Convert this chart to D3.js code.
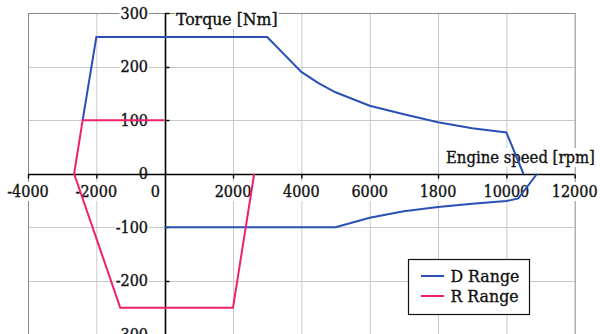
<!DOCTYPE html>
<html>
<head>
<meta charset="utf-8">
<script src="https://cdn.jsdelivr.net/npm/d3@7"></script>
<style>
  body { margin: 0; background: #fff; }
  text { font-family: "DejaVu Serif Condensed", "DejaVu Serif", serif; font-stretch: condensed;
         fill: #111; stroke: #111; stroke-width: 0.35px; }
</style>
</head>
<body>
<div id="chart"></div>
<script>
// D range, upper (drive) curve and lower (braking) curve
const dUpper = [[-2400, 100], [-2000, 255], [3000, 255], [4000, 190], [4500, 169], [5000, 152],
  [6000, 127], [7000, 111], [8000, 96], [9000, 85], [10000, 77], [10500, 0]];
const dLower = [[0, -100], [5000, -100], [6000, -82], [7000, -70], [8000, -62], [9000, -56],
  [10000, -51], [10350, -46], [10900, 0]];
// R range
const rRange = [[0, 100], [-2400, 100], [-2650, 0], [-1300, -250], [2000, -250], [2620, 0]];

const xTicks = [-4000, -2000, 0, 2000, 4000, 6000, 8000, 10000, 12000];
const xTickLabels = ['-4000', '-2000', '0', '2000', '4000', '6000', '1800', '10000', '12000'];
const yTicks = [300, 200, 100, 0, -100, -200, -300];
const legendItems = [{ name: 'D Range', color: '#2a50b4' }, { name: 'R Range', color: '#f0206c' }];

const width = 600, height = 334;

const x = d3.scaleLinear().domain([-4000, 12000]).range([28, 574.7]);
const y = d3.scaleLinear().domain([-300, 300]).range([334.5, 13]);

const svg = d3.select('#chart').append('svg')
    .attr('width', width)
    .attr('height', height);

// grid
svg.append('g').selectAll('line')
    .data(xTicks.filter(d => d !== 0 && d !== -4000 && d !== 12000))
  .enter().append('line')
    .attr('x1', d => x(d) + 0.5).attr('x2', d => x(d) + 0.5)
    .attr('y1', y(300)).attr('y2', y(-300))
    .attr('stroke', '#c8c8c8');
svg.append('g').selectAll('line')
    .data(yTicks.filter(d => d !== 0 && d !== 300 && d !== -300))
  .enter().append('line')
    .attr('y1', d => Math.round(y(d)) + 0.5).attr('y2', d => Math.round(y(d)) + 0.5)
    .attr('x1', x(-4000)).attr('x2', x(12000))
    .attr('stroke', '#c8c8c8');

// plot border
svg.append('rect')
    .attr('x', x(-4000) + 0.5).attr('y', y(300) + 0.5)
    .attr('width', x(12000) - x(-4000)).attr('height', y(-300) - y(300))
    .attr('fill', 'none')
    .attr('stroke', '#8a8a8a');

// label with white box behind it
function boxedText(g, tx, ty, str, size, anchor) {
  const grp = g.append('g');
  const t = grp.append('text')
      .attr('x', tx).attr('y', ty)
      .attr('text-anchor', anchor)
      .style('font-size', size + 'px')
      .text(str);
  const b = t.node().getBBox();
  grp.insert('rect', 'text')
      .attr('x', b.x - 1).attr('y', b.y)
      .attr('width', b.width + 2).attr('height', b.height)
      .attr('fill', '#fff');
  return grp;
}

const labels = svg.append('g');
yTicks.forEach(d => boxedText(labels, 148, y(d) + 5.5, String(d), 16, 'end'));
xTicks.forEach((d, i) => {
  const px = d === 0 ? 160 : x(d);
  boxedText(labels, px, 197, xTickLabels[i], 16, d === 0 ? 'end' : 'middle');
});
boxedText(labels, 176, 25, 'Torque [Nm]', 17.5, 'start');
boxedText(labels, 446, 163, 'Engine speed [rpm]', 16.5, 'start');

// axes through the origin
const x0 = Math.round(x(0)) + 0.5, y0 = Math.round(y(0)) + 0.5;
svg.append('line')
    .attr('x1', x(-4000)).attr('x2', x(12000))
    .attr('y1', y0).attr('y2', y0)
    .attr('stroke', '#000').attr('stroke-width', 1.6);
svg.append('line')
    .attr('x1', x0).attr('x2', x0)
    .attr('y1', y(300)).attr('y2', y(-300))
    .attr('stroke', '#000').attr('stroke-width', 1.6);
svg.append('g').selectAll('line')
    .data(xTicks.filter(d => d !== 0))
  .enter().append('line')
    .attr('x1', d => x(d) + 0.5).attr('x2', d => x(d) + 0.5)
    .attr('y1', y0).attr('y2', y0 + 4)
    .attr('stroke', '#000').attr('stroke-width', 1.4);
svg.append('g').selectAll('line')
    .data(yTicks.filter(d => d !== 0))
  .enter().append('line')
    .attr('y1', d => Math.round(y(d)) + 0.5).attr('y2', d => Math.round(y(d)) + 0.5)
    .attr('x1', x0).attr('x2', x0 + 4)
    .attr('stroke', '#000').attr('stroke-width', 1.4);

// series
const line = d3.line().x(d => x(d[0])).y(d => y(d[1]));
[dUpper, dLower].forEach(s => {
  svg.append('path')
      .attr('d', line(s))
      .attr('fill', 'none')
      .attr('stroke', legendItems[0].color)
      .attr('stroke-width', 2);
});
svg.append('path')
    .attr('d', line(rRange))
    .attr('fill', 'none')
    .attr('stroke', legendItems[1].color)
    .attr('stroke-width', 2);

// legend
const legend = svg.append('g');
legend.append('rect')
    .attr('x', 408.5).attr('y', 259.5)
    .attr('width', 121).attr('height', 55)
    .attr('fill', '#fff')
    .attr('stroke', '#111')
    .attr('stroke-width', 1.2);
legendItems.forEach((d, i) => {
  const ly = 276 + i * 20;
  legend.append('line')
      .attr('x1', 421).attr('x2', 444)
      .attr('y1', ly).attr('y2', ly)
      .attr('stroke', d.color)
      .attr('stroke-width', 2);
  legend.append('text')
      .attr('x', 450.5).attr('y', ly + 6)
      .style('font-size', '17.5px')
      .text(d.name);
});
</script>
</body>
</html>
